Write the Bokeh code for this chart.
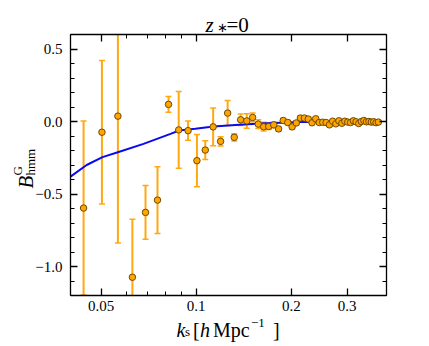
import math
from bokeh.plotting import figure
from bokeh.models import (Range1d, FixedTicker, LinearAxis, LogAxis, Label,
                          ColumnDataSource, LogScale, CustomJSTickFormatter)
from bokeh.embed import file_html
from bokeh.resources import INLINE

# ---- data ----
k_s = [0.0440, 0.0503, 0.0565, 0.0628, 0.0691, 0.0754, 0.0817, 0.0880, 0.0942,
       0.1005, 0.1068, 0.1131, 0.1194, 0.1257, 0.1319, 0.1382, 0.1445, 0.1508,
       0.1571, 0.1634, 0.1696, 0.1759, 0.1822, 0.1885, 0.1948, 0.2011, 0.2073,
       0.2136, 0.2199, 0.2262, 0.2325, 0.2388, 0.2450, 0.2513, 0.2576, 0.2639,
       0.2702, 0.2765, 0.2827, 0.2890, 0.2953, 0.3016, 0.3079, 0.3142, 0.3204,
       0.3267, 0.3330, 0.3393, 0.3456, 0.3519, 0.3581, 0.3644, 0.3707, 0.3770]
B_hmm = [-0.597, -0.074, 0.037, -1.074, -0.627, -0.542, 0.118, -0.058, -0.063,
         -0.270, -0.197, -0.037, -0.137, 0.058, -0.109, 0.012, 0.004, 0.028,
         -0.018, -0.036, -0.034, -0.023, -0.051, 0.007, -0.007, -0.037, -0.010,
         0.024, 0.024, 0.017, -0.009, 0.019, -0.007, -0.005, -0.007, -0.023,
         0.002, -0.016, 0.005, -0.012, 0.002, -0.004, -0.007, 0.005, -0.002,
         -0.014, 0.000, 0.007, -0.002, 0.000, -0.004, -0.002, -0.008, -0.004]
B_err = [0.600, 0.495, 0.875, 0.400, 0.185, 0.230, 0.055, 0.265, 0.067,
         0.180, 0.065, 0.130, 0.032, 0.086, 0.025, 0.040, 0.050, 0.030,
         0.030, 0.030, 0.022, 0.020, 0.015, 0.015, 0.015, 0.015, 0.015,
         0.015, 0.015, 0.015, 0.012, 0.012, 0.012, 0.012, 0.012, 0.012,
         0.010, 0.010, 0.010, 0.010, 0.010, 0.010, 0.010, 0.010, 0.010,
         0.010, 0.010, 0.010, 0.010, 0.010, 0.010, 0.010, 0.010, 0.010]

theory_k = [0.0400, 0.0450, 0.0505, 0.0568, 0.0681, 0.0829, 0.0883, 0.0993,
            0.1134, 0.1331, 0.1596, 0.1848, 0.2136, 0.2660, 0.3800]
theory_B = [-0.380, -0.300, -0.246, -0.210, -0.154, -0.085, -0.062, -0.050,
            -0.034, -0.024, -0.014, -0.008, -0.004, -0.003, -0.003]

x_major = [0.05, 0.1, 0.2, 0.3]
x_minor = [0.04, 0.06, 0.07, 0.08, 0.09, 0.4]
x_labels = ["0.05", "0.1", "0.2", "0.3"]
y_major = [-1.0, -0.5, 0.0, 0.5]
y_minor = [-1.2, -1.1, -0.9, -0.8, -0.7, -0.6, -0.4, -0.3, -0.2, -0.1,
           0.1, 0.2, 0.3, 0.4, 0.6]
y_labels = ["\u22121.0", "\u22120.5", "0.0", "0.5"]

XMIN, XMAX = 0.04, 0.4
YMIN, YMAX = -1.2, 0.6

FONT = "Liberation Serif"
W, H = 428, 345

# pixel layout of the axes box on the canvas
BOX_L, BOX_R, BOX_T, BOX_B = 70, 386, 34, 295
PX_DEC = (BOX_R - BOX_L) / math.log10(XMAX / XMIN)
PX_UNIT = (BOX_B - BOX_T) / (YMAX - YMIN)
TXT_SHIFT = 6  # renderer draws "alphabetic" text this much lower


def kx(px):
    return XMIN * 10 ** ((px - BOX_L) / PX_DEC)


def vy(py):
    return YMAX - (py - BOX_T) / PX_UNIT


p = figure(width=W, height=H, x_axis_type="log",
           x_axis_location=None, y_axis_location=None,
           x_range=Range1d(kx(0), kx(W)), y_range=Range1d(vy(H), vy(0)),
           output_backend="svg", toolbar_location=None,
           min_border=0)
p.x_scale = LogScale()
p.background_fill_color = "white"
p.border_fill_color = "white"
p.outline_line_color = None
p.grid.visible = False

xt = FixedTicker(ticks=x_major, minor_ticks=x_minor)
yt = FixedTicker(ticks=y_major, minor_ticks=y_minor)
blank = CustomJSTickFormatter(code="return ''")


def style(ax, show_labels):
    ax.axis_line_color = "black"
    ax.axis_line_width = 1.3
    ax.major_tick_in = 7
    ax.major_tick_out = 0
    ax.minor_tick_in = 4
    ax.minor_tick_out = 0
    ax.major_tick_line_width = 1.3
    ax.minor_tick_line_width = 1.0
    ax.major_tick_line_color = "black"
    ax.minor_tick_line_color = "black"
    if show_labels:
        ax.major_label_text_font = FONT
        ax.major_label_text_font_size = "15px"
        ax.major_label_text_color = "black"
    else:
        ax.formatter = blank
        ax.major_label_standoff = 0


bottom = LogAxis(ticker=xt, fixed_location=YMIN, bounds=(XMIN, XMAX))
bottom.major_label_overrides = {v: s for v, s in zip(x_major, x_labels)}
style(bottom, True)
bottom.major_label_standoff = 5
top = LogAxis(ticker=xt, fixed_location=YMAX, bounds=(XMIN, XMAX))
style(top, False)
left = LinearAxis(ticker=yt, fixed_location=XMIN, bounds=(YMIN, YMAX))
left.major_label_overrides = {v: s for v, s in zip(y_major, y_labels)}
style(left, True)
left.major_label_standoff = 8
right = LinearAxis(ticker=yt, fixed_location=XMAX, bounds=(YMIN, YMAX))
style(right, False)
p.add_layout(bottom, "below")
p.add_layout(top, "above")
p.add_layout(left, "left")
p.add_layout(right, "right")

# ---- error bars (clipped to the axes box), theory line, points ----
lo = [b - e for b, e in zip(B_hmm, B_err)]
hi = [b + e for b, e in zip(B_hmm, B_err)]
src = ColumnDataSource(dict(
    k=k_s, b=B_hmm,
    lo=[max(v, YMIN) for v in lo],
    hi=[min(v, YMAX) for v in hi]))
lo_caps = ColumnDataSource(dict(k=[k for k, v in zip(k_s, lo) if v >= YMIN],
                                y=[v for v in lo if v >= YMIN]))
hi_caps = ColumnDataSource(dict(k=[k for k, v in zip(k_s, hi) if v <= YMAX],
                                y=[v for v in hi if v <= YMAX]))

bar_col = "#ffa812"
p.segment(x0="k", y0="lo", x1="k", y1="hi", source=src,
          line_color=bar_col, line_width=2)
p.scatter(x="k", y="y", source=lo_caps, marker="dash", size=6,
          line_color=bar_col, line_width=1.5)
p.scatter(x="k", y="y", source=hi_caps, marker="dash", size=6,
          line_color=bar_col, line_width=1.5)

p.line(theory_k, theory_B, line_color="#0a0af0", line_width=2)

p.scatter(x="k", y="b", source=src, marker="circle", size=6.5,
          fill_color="#ffa500", line_color="#6e4a0a", line_width=1)


# ---- labels (math-like text built from pieces) ----
def lab(px, py, text, size, italic=False, rotated=False):
    if rotated:
        px -= TXT_SHIFT
    else:
        py -= TXT_SHIFT
    p.add_layout(Label(x=kx(px), y=vy(py), text=text, text_font=FONT,
                       text_font_size=f"{size}px",
                       text_font_style="italic" if italic else "normal",
                       text_color="black",
                       angle=math.pi / 2 if rotated else 0.0,
                       text_align="left", text_baseline="alphabetic"))


# title  z_* = 0
lab(205, 30, "z", 21, italic=True)
lab(216, 33, "\u2217", 13)
lab(226, 30, "=0", 21)

# x label  k_s [h Mpc^-1]
lab(176, 335, "k", 20, italic=True)
lab(184.5, 337, "s", 13)
lab(192.5, 335, "[", 20)
lab(199.5, 335, "h", 20, italic=True)
lab(212.5, 335, "Mpc", 20)
lab(250.5, 328, "\u22121", 13)
lab(272.5, 335, "]", 20)

# y label  B^G_hmm (rotated, reading upward)
lab(31, 188, "B", 21, italic=True, rotated=True)
lab(23, 175, "G", 13, rotated=True)
lab(35.5, 175, "hmm", 13, rotated=True)

open("out.html", "w").write(file_html(p, INLINE))
